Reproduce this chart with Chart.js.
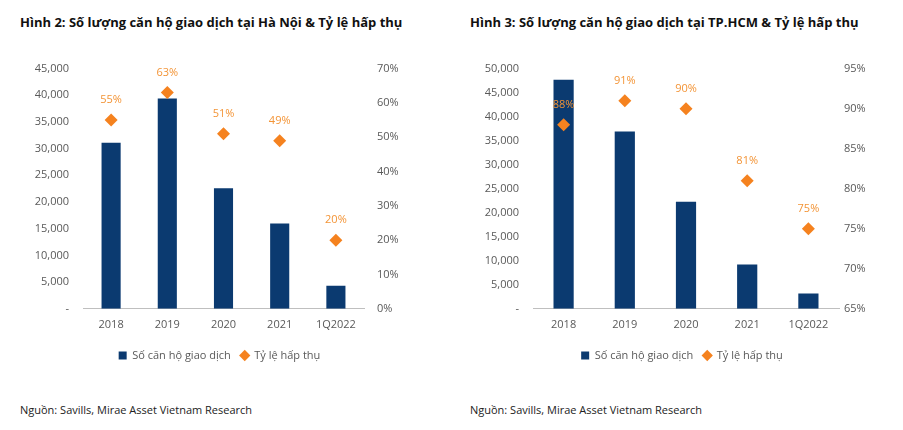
<!DOCTYPE html>
<html>
<head>
<meta charset="utf-8">
<script src="https://cdn.jsdelivr.net/npm/chart.js@4/dist/chart.umd.min.js"></script>
<style>
  html, body { margin: 0; padding: 0; background: #fff; }
  body { width: 903px; height: 430px; position: relative; overflow: hidden; font-family: "Open Sans", sans-serif; }
  .title { position: absolute; top: 13px; font-size: 13px; font-weight: bold; color: #111; white-space: nowrap; }
  .src { position: absolute; top: 402px; font-size: 11px; color: #222; white-space: nowrap; }
  .box { position: absolute; top: 48px; height: 323px; }
</style>
</head>
<body>
<div class="title" style="left:20px">Hình 2: Số lượng căn hộ giao dịch tại Hà Nội &amp; Tỷ lệ hấp thụ</div>
<div class="title" style="left:470px">Hình 3: Số lượng căn hộ giao dịch tại TP.HCM &amp; Tỷ lệ hấp thụ</div>
<div class="box" style="left:0;width:450px"><canvas id="c1"></canvas></div>
<div class="box" style="left:450px;width:453px"><canvas id="c2"></canvas></div>
<div class="src" style="left:20px">Nguồn: Savills, Mirae Asset Vietnam Research</div>
<div class="src" style="left:470px">Nguồn: Savills, Mirae Asset Vietnam Research</div>
<script>
const categories = ["2018", "2019", "2020", "2021", "1Q2022"];
const hnUnits = [31100, 39400, 22600, 16000, 4300];
const hnRate = [55, 63, 51, 49, 20];
const hcmUnits = [47700, 36900, 22300, 9200, 3200];
const hcmRate = [88, 91, 90, 81, 75];
const seriesNames = ["Số căn hộ giao dịch", "Tỷ lệ hấp thụ"];

const NAVY = "#0B3A70";
const ORANGE = "#F5821F";
const TICK = "#595959";
const FONT = "'Open Sans', sans-serif";

const labelPlugin = {
  id: "rateLabels",
  afterDatasetsDraw(chart) {
    const meta = chart.getDatasetMeta(1);
    const ctx = chart.ctx;
    ctx.save();
    ctx.font = "11px " + FONT;
    ctx.fillStyle = "#F39436";
    ctx.textAlign = "center";
    ctx.textBaseline = "middle";
    meta.data.forEach((pt, i) => {
      ctx.fillText(chart.data.datasets[1].data[i] + "%", pt.x, pt.y - 20);
    });
    ctx.restore();
  }
};

function makeChart(id, units, rate, yMax, rMin, rMax, rStep, rPad, padRight, barPct) {
  return new Chart(document.getElementById(id), {
    data: {
      labels: categories,
      datasets: [
        { type: "bar", label: seriesNames[0], data: units, backgroundColor: NAVY,
          barPercentage: barPct, categoryPercentage: 1, yAxisID: "y", order: 2 },
        { type: "line", label: seriesNames[1], data: rate, showLine: false,
          pointStyle: "rectRot", pointRadius: 6.5, pointHoverRadius: 6.5,
          backgroundColor: ORANGE, borderColor: ORANGE, borderWidth: 0,
          yAxisID: "y1", order: 1 }
      ]
    },
    options: {
      responsive: true, maintainAspectRatio: false, animation: false,
      layout: { padding: { left: 35, right: padRight, top: 7, bottom: 0 } },
      plugins: {
        tooltip: { enabled: false },
        legend: {
          position: "bottom",
          labels: {
            usePointStyle: true, boxWidth: 8, boxHeight: 8, padding: 10,
            color: TICK, font: { family: FONT, size: 11 },
            generateLabels(chart) {
              return [
                { text: seriesNames[0], fillStyle: NAVY, strokeStyle: NAVY, lineWidth: 0, pointStyle: "rect", datasetIndex: 0, fontColor: TICK },
                { text: seriesNames[1], fillStyle: ORANGE, strokeStyle: ORANGE, lineWidth: 0, pointStyle: "rectRot", datasetIndex: 1, fontColor: TICK }
              ];
            }
          }
        }
      },
      scales: {
        x: {
          grid: { display: false, drawTicks: false },
          border: { display: true, color: "#BFBFBF", width: 1 },
          ticks: { color: TICK, font: { family: FONT, size: 11 }, padding: 9 }
        },
        y: {
          position: "left", min: 0, max: yMax,
          grid: { display: false, drawTicks: false },
          border: { display: false },
          afterFit(s) { s.width = 48; },
          ticks: { stepSize: 5000, color: TICK, font: { family: FONT, size: 11 }, padding: 14,
            callback: v => v === 0 ? "-" : v.toLocaleString("en-US") }
        },
        y1: {
          position: "right", min: rMin, max: rMax,
          grid: { display: false, drawTicks: false },
          border: { display: false },
          afterFit(s) { s.width = 40; },
          ticks: { stepSize: rStep, color: TICK, font: { family: FONT, size: 11 }, padding: rPad,
            callback: v => v + "%" }
        }
      }
    },
    plugins: [labelPlugin]
  });
}

makeChart("c1", hnUnits, hnRate, 45000, 0, 70, 10, 13, 46, 0.34);
makeChart("c2", hcmUnits, hcmRate, 50000, 65, 95, 5, 5, 24, 0.33);
</script>
</body>
</html>
